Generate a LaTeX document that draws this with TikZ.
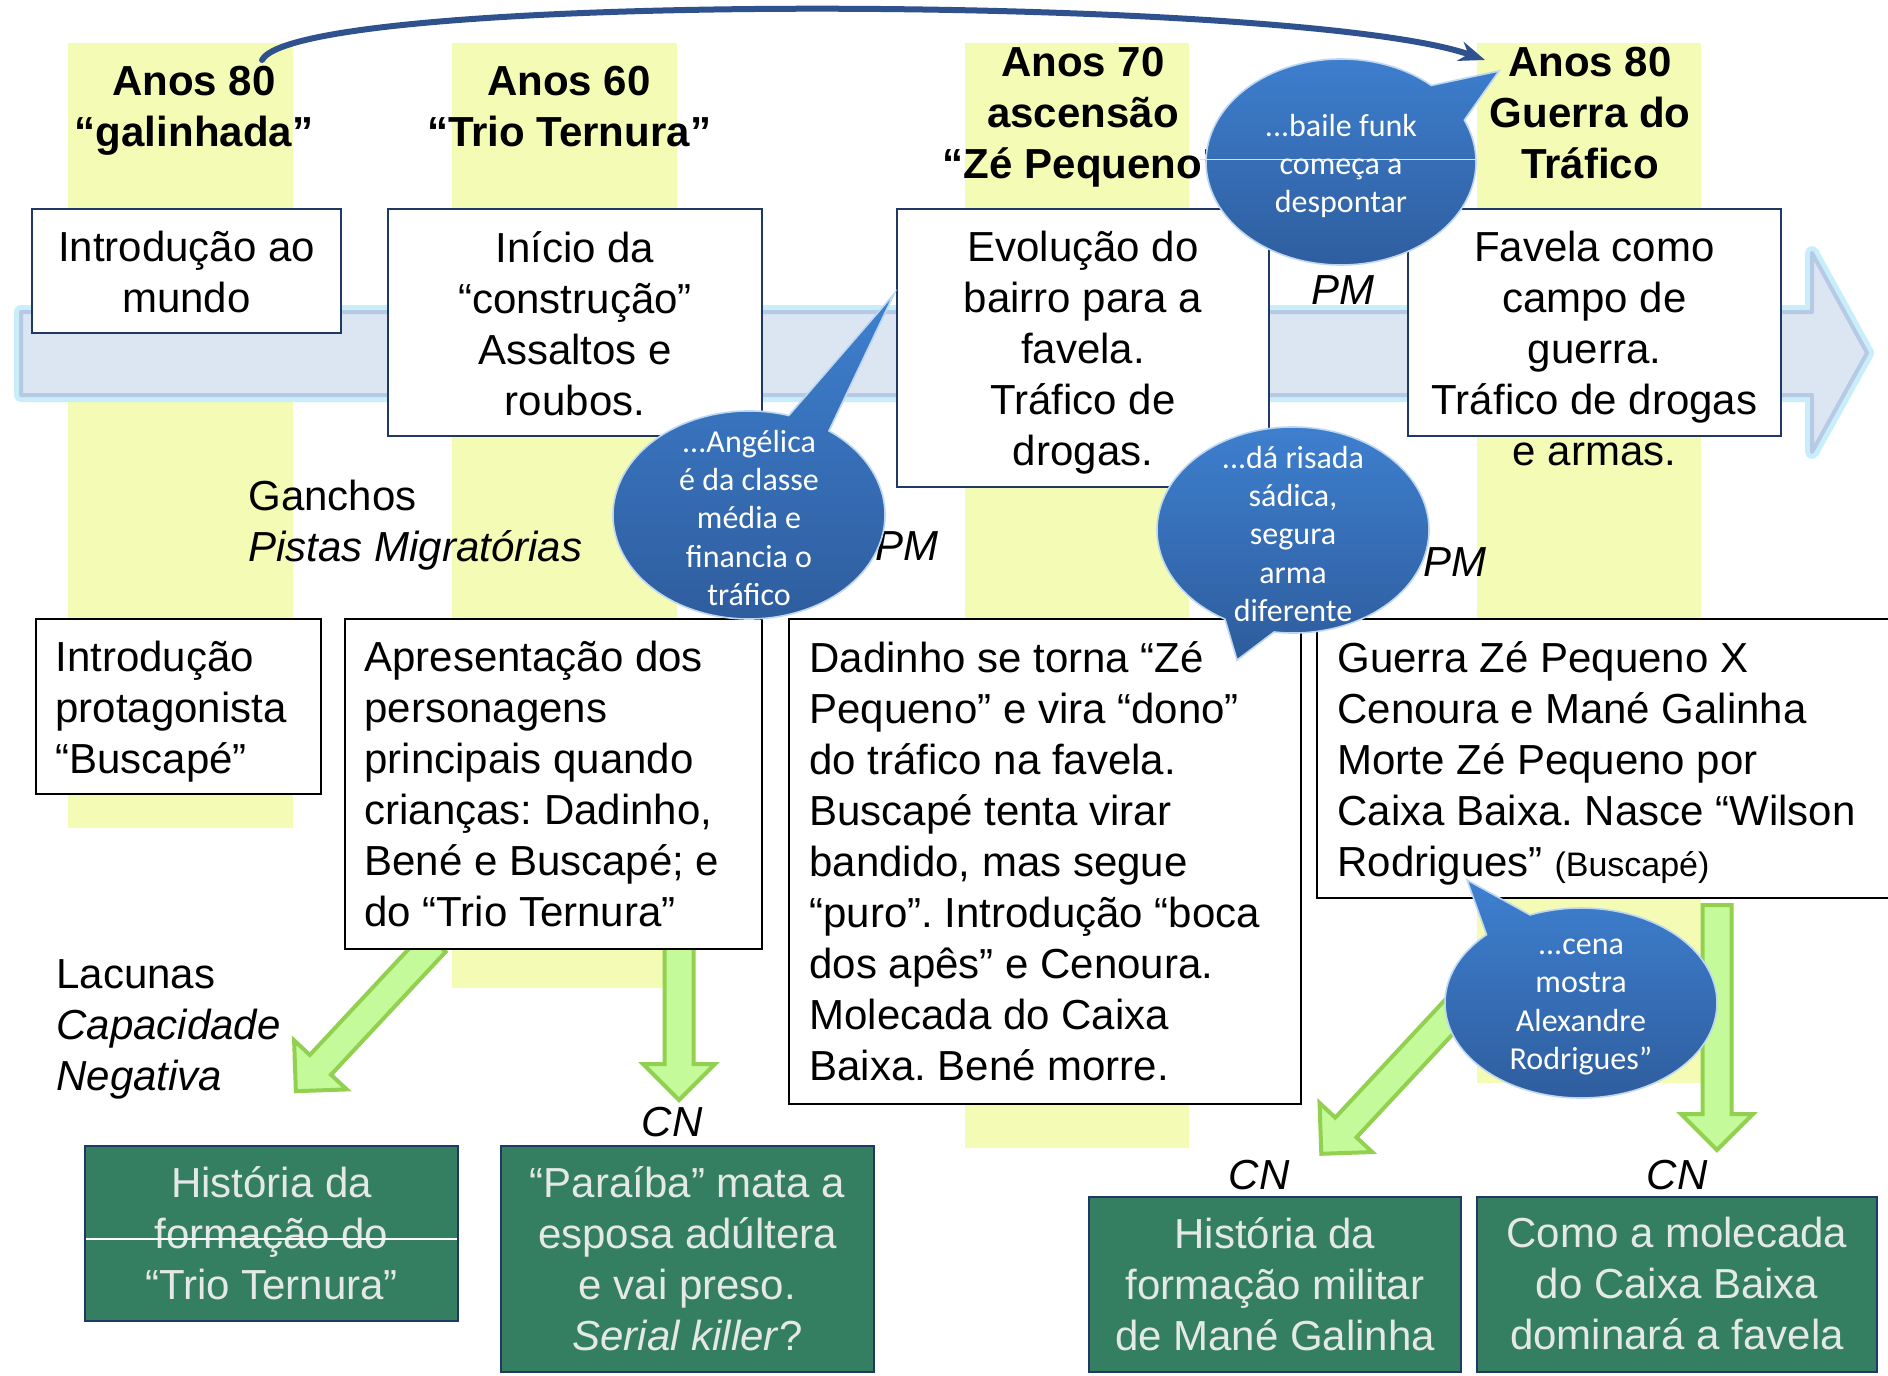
\documentclass[tikz,border=0pt]{standalone}
\usepackage{fontspec}
\setmainfont{Liberation Sans}
\newfontfamily\balloonfont{Carlito}
\usetikzlibrary{arrows.meta}
\frenchspacing

\definecolor{bandyellow}{RGB}{243,251,181}
\definecolor{arrowfill}{RGB}{220,230,242}
\definecolor{arrowline}{RGB}{182,202,230}
\definecolor{arrowglow}{RGB}{200,238,250}
\definecolor{navy}{RGB}{31,56,100}
\definecolor{boxgreen}{RGB}{52,126,98}
\definecolor{textgray}{RGB}{228,232,230}
\definecolor{lightgreen}{RGB}{196,250,154}
\definecolor{midgreen}{RGB}{146,208,80}
\definecolor{balltop}{RGB}{62,128,208}
\definecolor{ballbottom}{RGB}{46,92,156}
\definecolor{ballline}{RGB}{190,215,240}
\definecolor{arcblue}{RGB}{47,82,143}

\tikzset{
  band/.style={fill=bandyellow},
  timeline/.style={fill=arrowfill, draw=arrowline, line width=2pt, line join=round,
    preaction={draw=arrowglow, line width=7pt, line join=round}},
  topbox/.style={draw=navy, fill=white, line width=1pt},
  lowbox/.style={draw=black, fill=white, line width=1pt},
  greenbox/.style={draw=navy, fill=boxgreen, line width=1.2pt},
  heading/.style={font=\fontsize{21}{25.5}\selectfont\bfseries, align=center,
    inner sep=0pt, anchor=north, execute at begin node=\strut},
  boxtext/.style={font=\fontsize{21}{25.5}\selectfont, align=center,
    inner sep=0pt, anchor=north, execute at begin node=\strut},
  lefttext/.style={font=\fontsize{21}{25.5}\selectfont, align=left,
    inner sep=0pt, anchor=north west, execute at begin node=\strut},
  greenlabel/.style={boxtext, text=textgray},
  tag/.style={font=\fontsize{21}{25.5}\selectfont\itshape, inner sep=0pt},
  balloon/.style={top color=balltop, bottom color=ballbottom, draw=ballline, line width=0.8pt},
  balloontext/.style={font=\balloonfont\fontsize{16}{19.2}\selectfont, text=white,
    align=center, inner sep=0pt},
  blockarrow/.style={fill=lightgreen, draw=midgreen, line width=2pt, line join=miter},
  timearc/.style={draw=arcblue, line width=3pt, line cap=round,
    -{Stealth[length=13pt, width=10pt]}},
}

\begin{document}
\begin{tikzpicture}[x=0.5pt, y=-0.5pt]
\useasboundingbox (0,0) rectangle (1888,1375);
\clip (0,0) rectangle (1888,1375);
\fill[white] (0,0) rectangle (1888,1375);

% decades
\foreach \xa/\xb/\yb in {68/293/828, 452/677/988, 965/1189/1148, 1477/1701/1083}
  \fill[band] (\xa,43) rectangle (\xb,\yb);

% timeline
\draw[timeline] (21,312) -- (1812,312) -- (1812,253) -- (1867,353) -- (1812,452)
  -- (1812,395) -- (21,395) -- cycle;

\node[heading] (headA) at (194,66) {Anos 80\\“galinhada”};
\node[heading] (headB) at (569,66) {Anos 60\\“Trio Ternura”};
\node[heading] (headC) at (1083,47) {Anos 70\\ascensão\\“Zé Pequeno”};
\node[heading] (headD) at (1590,47) {Anos 80\\Guerra do\\Tráfico};

\draw[topbox] (32,209) rectangle (341,333);
\draw[topbox] (388,209) rectangle (762,436);
\draw[topbox] (897,209) rectangle (1269,487);
\draw[topbox] (1408,209) rectangle (1781,436);

\node[boxtext] (introtxt) at (186.5,231) {Introdução ao\\mundo};
\node[boxtext] (iniciotxt) at (575,231) {Início da\\“construção”\\Assaltos e\\roubos.};
\node[boxtext] (evoltxt) at (1083,231) {Evolução do\\bairro para a\\favela.\\Tráfico de\\drogas.};
\node[boxtext] (favelatxt) at (1594.5,231) {Favela como\\campo de\\guerra.\\Tráfico de drogas\\e armas.};

% lacunas
\foreach \x/\y/\a/\l in {435/942/227/204, 679/940/270/160, 1530/930/227/306, 1717/905/270/245}
  \draw[blockarrow, shift={(\x,\y)}, rotate=\a]
    (0,-14.5) -- (\l-36,-14.5) -- (\l-36,-36) -- (\l,0) -- (\l-36,36)
    -- (\l-36,14.5) -- (0,14.5) -- cycle;

\draw[lowbox] (36,619) rectangle (321,794);
\draw[lowbox] (345,619) rectangle (762,949);
\draw[lowbox] (789,619) rectangle (1301,1104);
\draw[lowbox] (1317,619) rectangle (1900,898);

\node[lefttext] (protag) at (55,641) {Introdução\\protagonista\\“Buscapé”};
\node[lefttext] (apresent) at (364,641) {Apresentação dos\\personagens\\principais quando\\crianças: Dadinho,\\Bené e Buscapé; e\\do “Trio Ternura”};
\node[lefttext] (dadinho) at (809,641) {Dadinho se torna “Zé\\Pequeno” e vira “dono”\\do tráfico na favela.\\Buscapé tenta virar\\bandido, mas segue\\“puro”. Introdução “boca\\dos apês” e Cenoura.\\Molecada do Caixa\\Baixa. Bené morre.};
\node[lefttext] (guerra) at (1337,641) {Guerra Zé Pequeno X\\Cenoura e Mané Galinha\\Morte Zé Pequeno por\\Caixa Baixa. Nasce “Wilson\\Rodrigues” {\fontsize{17}{20}\selectfont(Buscapé)}};

\node[lefttext] (ganchos) at (248,480) {Ganchos\\\textit{Pistas Migratórias}};
\node[lefttext] (lacunas) at (56,959) {Lacunas\\\textit{Capacidade}\\\textit{Negativa}};

\draw[greenbox] (85,1146) rectangle (458,1321);
\draw[greenbox] (501,1146) rectangle (874,1372);
\draw[greenbox] (1089,1197) rectangle (1461,1372);
\draw[greenbox] (1477,1197) rectangle (1877,1372);

\node[greenlabel] (histtrio) at (271.5,1166) {História da\\formação do\\“Trio Ternura”};
\node[greenlabel] (paraiba) at (687.5,1166) {“Paraíba” mata a\\esposa adúltera\\e vai preso.\\\textit{Serial killer}?};
\node[greenlabel] (histmane) at (1275,1217) {História da\\formação militar\\de Mané Galinha};
\node[greenlabel] (molecada) at (1677,1217) {Como a molecada\\do Caixa Baixa\\dominará a favela};
\draw[white, line width=0.7pt] (86,1239) -- (457,1239);

\node[tag] (pm1) at (907,546) {PM};
\node[tag] (pm2) at (1343,290) {PM};
\node[tag] (pm3) at (1455,562) {PM};
\node[tag] (cn1) at (672,1122) {CN};
\node[tag] (cn2) at (1259,1175) {CN};
\node[tag] (cn3) at (1677,1175) {CN};

% balloons
\draw[balloon] (1341,162) ++(-48:135 and 103) arc[start angle=-48, end angle=-384,
  x radius=135, y radius=103] -- (1499,71) -- cycle;
\draw[ballline!70!white, line width=0.4pt] (1200,159) -- (1476,159);
\node[balloontext] (funk) at (1341,166) {...baile funk\\começa a\\despontar};

\draw[balloon] (749,515) ++(-73:136 and 104) arc[start angle=-73, end angle=-414,
  x radius=136, y radius=104] -- (894,294) -- cycle;
\node[balloontext] (angelica) at (749,518) {...Angélica\\é da classe\\média e\\financia o\\tráfico};

\draw[balloon] (1293,530) ++(-262:136 and 103) arc[start angle=-262, end angle=-600,
  x radius=136, y radius=103] -- (1237,660) -- cycle;
\node[balloontext] (risada) at (1293,534) {...dá risada\\sádica,\\segura\\arma\\diferente};

\draw[balloon] (1581,1003) ++(-134:136 and 95) arc[start angle=-134, end angle=-472,
  x radius=136, y radius=95] -- (1467,880) -- cycle;
\node[balloontext] (cena) at (1581,1007) {...cena\\mostra\\Alexandre\\Rodrigues”};

% jump back to the 80s
\coordinate (arcA) at (262,60);
\coordinate (arcD) at (1485,60);
\draw[timearc] (arcA) .. controls (300,-10) and (1300,-5) .. (arcD);
\end{tikzpicture}
\end{document}
